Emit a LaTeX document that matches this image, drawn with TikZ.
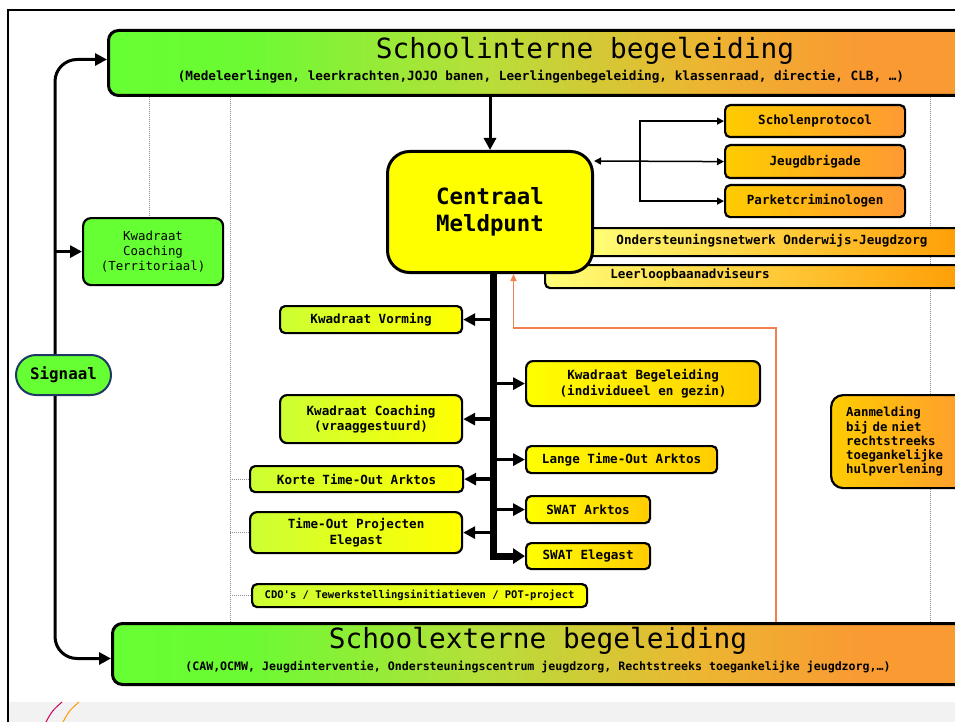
\documentclass[tikz,border=0pt]{standalone}
\usepackage{fontspec}
\usetikzlibrary{arrows.meta}
\newfontfamily\mono{DejaVu Sans Mono}
\newcommand\smf{\mono\bfseries\fontsize{12.6}{15.5}\selectfont}
\newcommand\smnf{\mono\fontsize{12.4}{15}\selectfont}
\newcommand\ttlf{\mono\fontsize{27.8}{30}\selectfont}
\definecolor{cGreen}{HTML}{66FF33}
\definecolor{cGreenb}{HTML}{6CFA33}
\definecolor{cMidA}{HTML}{B5E03A}
\definecolor{cMidB}{HTML}{EDB531}
\definecolor{cOrangeBar}{HTML}{F99A33}
\definecolor{cLime}{HTML}{CCFF33}
\definecolor{cYellow}{HTML}{FFFF00}
\definecolor{cGold}{HTML}{FFCC00}
\definecolor{cOrangeB}{HTML}{FF9933}
\definecolor{cLightY}{HTML}{FFFF77}
\definecolor{cOrangeC}{HTML}{FF9900}
\definecolor{cNavy}{HTML}{1F3864}
\definecolor{cOrLine}{HTML}{F08050}
\definecolor{cMag}{HTML}{CC0066}
\definecolor{cBand}{HTML}{F2F2F2}
\definecolor{cDot}{HTML}{8C8C8C}
\pgfdeclarehorizontalshading{barshade}{100bp}{color(0bp)=(cGreen); color(25bp)=(cGreen); color(33bp)=(cGreenb); color(46bp)=(cMidA); color(59bp)=(cMidB); color(68bp)=(cOrangeBar); color(100bp)=(cOrangeBar)}
\begin{document}
\begin{tikzpicture}[x=1pt,y=-1pt,
  box/.style={draw, line width=2.2pt, rounded corners=5pt, inner sep=0pt, align=center, anchor=north west, font=\smf},
  bar/.style={draw, line width=3pt, rounded corners=10pt, inner sep=0pt, anchor=north west, shading=barshade, shading angle=0},
  lg/.style={left color=cLime, right color=cYellow},
  yg/.style={left color=cYellow, right color=cGold},
  og/.style={left color=cGold, right color=cOrangeB},
  lo/.style={left color=cLightY, right color=cOrangeC},
  dotline/.style={draw=cDot, line width=0.8pt, dash pattern=on 1pt off 1pt},
  thickarrow/.style={draw, line width=3pt, -{Triangle[length=12pt,width=12pt]}},
  brarrow/.style={draw, line width=3.5pt, -{Triangle[length=12pt,width=12pt]}},
  thinarrow/.style={draw, line width=1.5pt, -{Triangle[length=7pt,width=7pt]}},
  thinboth/.style={draw, line width=1.5pt, {Triangle[length=7pt,width=7pt]}-{Triangle[length=7pt,width=7pt]}},
  orarrow/.style={draw=cOrLine, line width=1.5pt, -{Triangle[length=7pt,width=6pt]}},
]
\useasboundingbox (0,0) rectangle (955,722);
% background band and frame
\fill[cBand] (9,702) rectangle (955,722);
\draw[cMag, line width=1pt] (46,722) .. controls (52,711) .. (62,702);
\draw[cOrangeC, line width=1pt] (63,722) .. controls (69,711) .. (79,702);
\draw[line width=2pt] (8,722) -- (8,10) -- (960,10);

% coordinates
\coordinate (spx) at (55,0);
\coordinate (d1) at (149,0);
\coordinate (d2) at (230,0);
\coordinate (d3) at (930,0);
\coordinate (tr) at (493,0);
\coordinate (jx) at (640,161);
\coordinate (o1) at (776,328);

% bars
\node[bar, minimum width=873pt, minimum height=65pt] (intern) at (107,29) {};
\node[bar, minimum width=869pt, minimum height=61pt] (extern) at (111,622) {};
\node[font=\ttlf, inner sep=0pt] (internt) at (585,51) {Schoolinterne begeleiding};
\node[font=\mono\bfseries\fontsize{12.7}{14}\selectfont, inner sep=0pt] (interns) at (541,77) {(Medeleerlingen, leerkrachten,JOJO banen, Leerlingenbegeleiding, klassenraad, directie, CLB, …)};
\node[font=\ttlf, inner sep=0pt] (externt) at (538,641) {Schoolexterne begeleiding};
\node[font=\mono\bfseries\fontsize{11.6}{13}\selectfont, inner sep=0pt] (externs) at (538,667) {(CAW,OCMW, Jeugdinterventie, Ondersteuningscentrum jeugdzorg, Rechtstreeks toegankelijke jeugdzorg,…)};

% dotted guide lines
\node[box, fill=cGreen, font=\smnf, minimum width=140pt, minimum height=67pt, rounded corners=8pt] (kct) at (82,217) {Kwadraat\\Coaching\\(Territoriaal)};
\draw[dotline] (d1 |- intern.south) -- (d1 |- kct.north);
\draw[dotline] (d2 |- intern.south) -- (d2 |- extern.north);
\draw[dotline] (d3 |- intern.south) -- (d3 |- extern.north);

% right-side long boxes (behind Centraal Meldpunt)
\node[box, lo, minimum width=395pt, minimum height=28pt] (ond) at (585,227) {};
\node[font=\smf, inner sep=0pt] (ondt) at (772,241) {Ondersteuningsnetwerk Onderwijs-Jeugdzorg};
\node[box, lo, minimum width=436pt, minimum height=23pt] (leer) at (544,264) {};
\node[font=\smf, inner sep=0pt] (leert) at (690,275) {Leerloopbaanadviseurs};

% central node
\node[box, fill=cYellow, line width=3pt, rounded corners=22pt, minimum width=205pt, minimum height=121pt, font=\mono\bfseries\fontsize{22.4}{27}\selectfont] (cm) at (386,150) {Centraal\\Meldpunt};

% orange boxes top right
\node[box, og, minimum width=180pt, minimum height=32pt] (sp) at (724,104) {Scholenprotocol};
\node[box, og, minimum width=180pt, minimum height=33pt] (jb) at (724,144) {Jeugdbrigade};
\node[box, og, minimum width=180pt, minimum height=32pt] (pk) at (724,184) {Parketcriminologen};

% left boxes
\node[box, lg, minimum width=182pt, minimum height=27pt] (kv) at (279,305) {Kwadraat Vorming};
\node[box, lg, minimum width=182pt, minimum height=48pt, rounded corners=7pt] (kcv) at (279,394) {Kwadraat Coaching\\(vraaggestuurd)};
\node[box, lg, minimum width=213pt, minimum height=26pt] (kto) at (249,465) {Korte Time-Out Arktos};
\node[box, lg, minimum width=212pt, minimum height=41pt, rounded corners=7pt] (tpe) at (249,511) {Time-Out Projecten\\Elegast};
\node[box, lg, minimum width=335pt, minimum height=23pt, font=\mono\bfseries\fontsize{10.5}{12}\selectfont] (cdo) at (251,583) {CDO's / Tewerkstellingsinitiatieven / POT-project};
\draw[dotline] (d2 |- kto.west) -- (kto.west);
\draw[dotline] (d2 |- tpe.west) -- (tpe.west);
\draw[dotline] (d2 |- cdo.west) -- (cdo.west);

% right yellow boxes
\node[box, yg, minimum width=234pt, minimum height=45pt, rounded corners=7pt] (kb) at (525,360) {Kwadraat Begeleiding\\(individueel en gezin)};
\node[box, yg, minimum width=191pt, minimum height=27pt] (lto) at (525,445) {Lange Time-Out Arktos};
\node[box, yg, minimum width=124pt, minimum height=27pt] (swa) at (525,495) {SWAT Arktos};
\node[box, yg, minimum width=124pt, minimum height=26pt] (swe) at (525,542) {SWAT Elegast};

% Aanmelding
\node[box, og, minimum width=145pt, minimum height=93pt, rounded corners=12pt, text width=115pt, align=left, font=\mono\bfseries\fontsize{12.4}{14.3}\selectfont] (aan) at (830,394) {Aanmelding\\bij de niet\\rechtstreeks\\toegankelijke\\hulpverlening};

% Signaal
\node[draw=cNavy, fill=cGreen, line width=2pt, rounded corners=20pt, minimum width=95pt, minimum height=40pt, inner sep=0pt, font=\mono\bfseries\fontsize{15.8}{18}\selectfont] (sig) at (63.5,375) {Signaal};

% connectors
\draw[thickarrow, rounded corners=22pt] (sig.north -| spx) |- ([yshift=3.5pt]intern.west);
\draw[thickarrow, rounded corners=22pt] (sig.south -| spx) |- ([yshift=-4.5pt]extern.west);
\draw[thickarrow] (spx |- kct.west) -- (kct.west);
\draw[thickarrow] (cm.north |- intern.south) -- (cm.north);

\draw[thinboth] (cm.east |- jx) -- (jb.west);
\draw[thinarrow] (jx) |- (sp.west);
\draw[thinarrow] (jx) |- (pk.west);

\draw[line width=7pt, -{Triangle[length=12pt,width=15pt]}] (tr |- cm.south) -- (tr |- swe.west) -- (swe.west);
\draw[brarrow] (tr |- kv.east) -- (kv.east);
\draw[brarrow] (tr |- kcv.east) -- (kcv.east);
\draw[brarrow] (tr |- kto.east) -- (kto.east);
\draw[brarrow] (tr |- tpe.east) -- (tpe.east);
\draw[brarrow] (tr |- kb.west) -- (kb.west);
\draw[brarrow] (tr |- lto.west) -- (lto.west);
\draw[brarrow] (tr |- swa.west) -- (swa.west);

\draw[orarrow] (extern.north -| o1) -- (o1) -| ([xshift=23.5pt]cm.south);
\end{tikzpicture}
\end{document}
